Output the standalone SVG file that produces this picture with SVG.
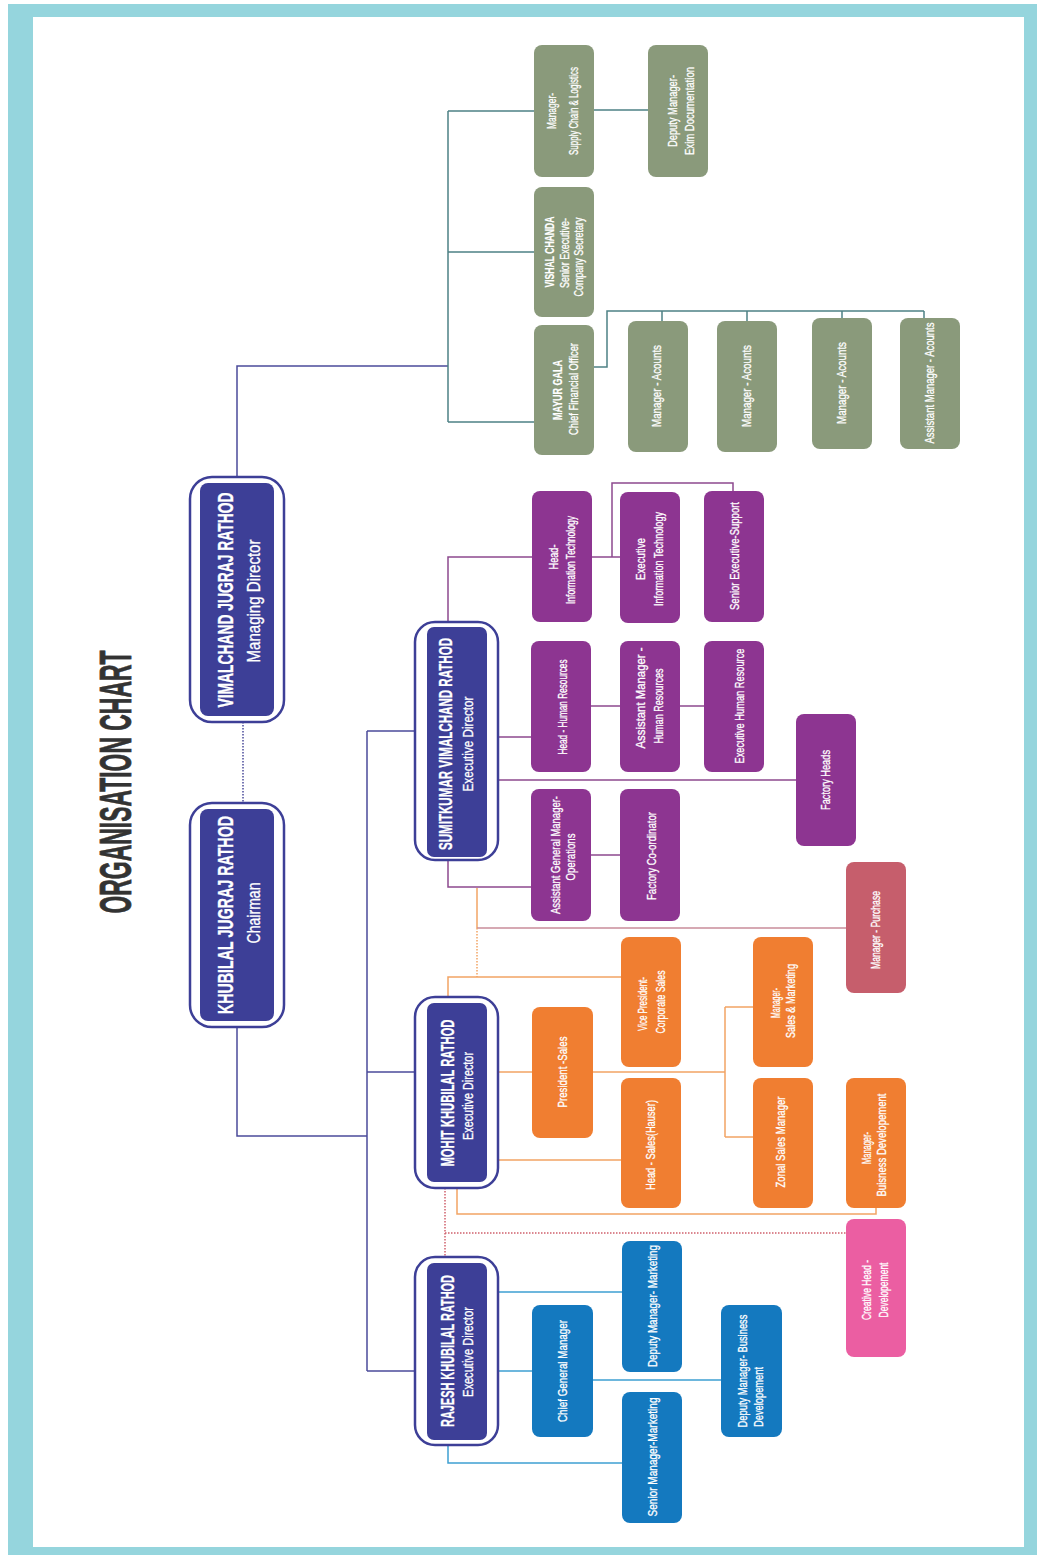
<svg xmlns="http://www.w3.org/2000/svg" width="1037" height="1555" viewBox="0 0 1037 1555">
<style>
.t{font-family:"Liberation Sans",Arial,sans-serif;font-size:13.5px;fill:#fff;stroke:#fff;stroke-width:0.3;text-anchor:middle}
.b{font-weight:bold;stroke-width:0.2}
.nm{font-family:"Liberation Sans",Arial,sans-serif;font-weight:bold;fill:#fff;stroke:#fff;stroke-width:0.3;text-anchor:middle}
.rl{font-family:"Liberation Sans",Arial,sans-serif;fill:#fff;stroke:#fff;stroke-width:0.3;text-anchor:middle}
.outer{fill:#fff;stroke:#3d3f97;stroke-width:2.5}
.inner{fill:#3d3f97}
.g{fill:#8a9a7b}.p{fill:#8d3591}.o{fill:#f07e31}.r{fill:#c65e6c}.k{fill:#eb5ea2}.bl{fill:#1479bf}
.c{fill:none;stroke-width:1.5}
.cn{stroke:#4b4b9a}.cg{stroke:#4e8185}.cp{stroke:#8d4a8f}.co{stroke:#f2a464}.cr{stroke:#c98c9a}.cb{stroke:#3ea0d2}
.dot{stroke-dasharray:1.5 1.5}
</style>
<rect x="8" y="4" width="1029" height="1551" fill="#95d5dd"/>
<rect x="33" y="17" width="991" height="1530" fill="#fff"/>
<text x="0" y="0" transform="translate(131,782) rotate(-90)" font-family="Liberation Sans,Arial,sans-serif" font-weight="bold" font-size="45" fill="#333" stroke="#333" stroke-width="0.8" text-anchor="middle" textLength="263" lengthAdjust="spacingAndGlyphs">ORGANISATION CHART</text>

<g id="connectors">
<path class="c cn" d="M237 477V366H448"/>
<path class="c cn dot" d="M243 722V803"/>
<path class="c cn" d="M237 1027V1136H367"/>
<path class="c cn" d="M367 731V1371M367 731H415M367 1072H415M367 1371H415"/>
<path class="c cg" d="M448 111V422M448 111H534M448 252H534M448 422H534M594 110H648"/>
<path class="c cg" d="M594 367H607V311H924M662 311V321M747 311V321M842 311V318M924 311V318"/>
<path class="c cp" d="M448 622V557H532M592 557H620M612 557V483H733V491"/>
<path class="c cp" d="M498 737H531M591 706H620M680 706H704M498 780H796"/>
<path class="c cp" d="M448 860V887H531M591 855H620"/>
<path class="c co" d="M477 888V928"/>
<path class="c cr" d="M477 928H846"/>
<path class="c co dot" d="M477 928V977"/>
<path class="c co" d="M448 997V977H621M498 1072H532M593 1072H725M725 1007V1137M725 1007H753M725 1137H753M498 1160H621M457 1188V1214H876V1208"/>
<path class="c dot" stroke="#d0606c" d="M445 1188V1257M445 1233H846"/>
<path class="c cb" d="M498 1292H622M498 1371H532M593 1380H721M448 1445V1463H622"/>
</g>

<g id="md">
<rect class="outer" x="190" y="477" width="94" height="245" rx="22"/>
<rect class="inner" x="200" y="483" width="74" height="233" rx="8"/>
<text class="nm" font-size="22" transform="translate(233,600) rotate(-90)" textLength="215" lengthAdjust="spacingAndGlyphs">VIMALCHAND JUGRAJ RATHOD</text>
<text class="rl" font-size="18" transform="translate(260,601) rotate(-90)" textLength="123" lengthAdjust="spacingAndGlyphs">Managing Director</text>
</g>
<g id="chairman">
<rect class="outer" x="190" y="803" width="94" height="224" rx="22"/>
<rect class="inner" x="200" y="809" width="74" height="212" rx="8"/>
<text class="nm" font-size="22" transform="translate(233,915) rotate(-90)" textLength="198" lengthAdjust="spacingAndGlyphs">KHUBILAL JUGRAJ RATHOD</text>
<text class="rl" font-size="18" transform="translate(260,913) rotate(-90)" textLength="61" lengthAdjust="spacingAndGlyphs">Chairman</text>
</g>
<g id="sumit">
<rect class="outer" x="415" y="622" width="83" height="238" rx="20"/>
<rect class="inner" x="427" y="627" width="60" height="230" rx="7"/>
<text class="nm" font-size="19" transform="translate(452,744) rotate(-90)" textLength="212" lengthAdjust="spacingAndGlyphs">SUMITKUMAR VIMALCHAND RATHOD</text>
<text class="rl" font-size="15" transform="translate(473,744) rotate(-90)" textLength="95" lengthAdjust="spacingAndGlyphs">Executive Director</text>
</g>
<g id="mohit">
<rect class="outer" x="415" y="997" width="83" height="191" rx="20"/>
<rect class="inner" x="427" y="1003" width="60" height="179" rx="7"/>
<text class="nm" font-size="19" transform="translate(454,1093) rotate(-90)" textLength="147" lengthAdjust="spacingAndGlyphs">MOHIT KHUBILAL RATHOD</text>
<text class="rl" font-size="15" transform="translate(473,1096) rotate(-90)" textLength="88" lengthAdjust="spacingAndGlyphs">Executive Director</text>
</g>
<g id="rajesh">
<rect class="outer" x="415" y="1257" width="83" height="188" rx="20"/>
<rect class="inner" x="427" y="1263" width="60" height="177" rx="7"/>
<text class="nm" font-size="19" transform="translate(454,1351) rotate(-90)" textLength="152" lengthAdjust="spacingAndGlyphs">RAJESH KHUBILAL RATHOD</text>
<text class="rl" font-size="15" transform="translate(473,1352) rotate(-90)" textLength="90" lengthAdjust="spacingAndGlyphs">Executive Director</text>
</g>

<g id="mgr-supply-chain">
<rect class="g" x="534" y="45" width="60" height="132" rx="8"/>
<text class="t" transform="translate(556,111) rotate(-90)" textLength="36" lengthAdjust="spacingAndGlyphs">Manager-</text>
<text class="t" transform="translate(578,111) rotate(-90)" textLength="88" lengthAdjust="spacingAndGlyphs">Supply Chain &amp; Logistics</text>
</g>
<g id="dy-mgr-exim">
<rect class="g" x="648" y="45" width="60" height="132" rx="8"/>
<text class="t" transform="translate(677,111) rotate(-90)" textLength="72" lengthAdjust="spacingAndGlyphs">Deputy Manager-</text>
<text class="t" transform="translate(694,111) rotate(-90)" textLength="88" lengthAdjust="spacingAndGlyphs">Exim Documentation</text>
</g>
<g id="vishal">
<rect class="g" x="534" y="187" width="60" height="130" rx="8"/>
<text class="t b" transform="translate(554,252) rotate(-90)" textLength="71" lengthAdjust="spacingAndGlyphs">VISHAL CHANDA</text>
<text class="t" transform="translate(569,253) rotate(-90)" textLength="70" lengthAdjust="spacingAndGlyphs">Senior Executive-</text>
<text class="t" transform="translate(582.5,257) rotate(-90)" textLength="79" lengthAdjust="spacingAndGlyphs">Company Secretary</text>
</g>
<g id="mayur">
<rect class="g" x="534" y="325" width="60" height="130" rx="8"/>
<text class="t b" transform="translate(562,390) rotate(-90)" textLength="60" lengthAdjust="spacingAndGlyphs">MAYUR GALA</text>
<text class="t" transform="translate(578,389) rotate(-90)" textLength="92" lengthAdjust="spacingAndGlyphs">Chief Financial Officer</text>
</g>
<g id="mgr-accounts-1">
<rect class="g" x="628" y="321" width="60" height="131" rx="8"/>
<text class="t" transform="translate(661,386) rotate(-90)" textLength="82" lengthAdjust="spacingAndGlyphs">Manager - Acounts</text>
</g>
<g id="mgr-accounts-2">
<rect class="g" x="717" y="321" width="60" height="131" rx="8"/>
<text class="t" transform="translate(751,386) rotate(-90)" textLength="82" lengthAdjust="spacingAndGlyphs">Manager - Acounts</text>
</g>
<g id="mgr-accounts-3">
<rect class="g" x="812" y="318" width="60" height="131" rx="8"/>
<text class="t" transform="translate(846,383) rotate(-90)" textLength="82" lengthAdjust="spacingAndGlyphs">Manager - Acounts</text>
</g>
<g id="asst-mgr-accounts">
<rect class="g" x="900" y="318" width="60" height="131" rx="8"/>
<text class="t" transform="translate(934,383) rotate(-90)" textLength="121" lengthAdjust="spacingAndGlyphs">Assistant Manager - Acounts</text>
</g>

<g id="head-it">
<rect class="p" x="532" y="491" width="60" height="131" rx="8"/>
<text class="t" transform="translate(558,557) rotate(-90)" textLength="25" lengthAdjust="spacingAndGlyphs">Head-</text>
<text class="t" transform="translate(575,560) rotate(-90)" textLength="88" lengthAdjust="spacingAndGlyphs">Information Technology</text>
</g>
<g id="exec-it">
<rect class="p" x="620" y="492" width="60" height="131" rx="8"/>
<text class="t" transform="translate(645,559) rotate(-90)" textLength="42" lengthAdjust="spacingAndGlyphs">Executive</text>
<text class="t" transform="translate(663,559) rotate(-90)" textLength="94" lengthAdjust="spacingAndGlyphs">Information Technology</text>
</g>
<g id="sr-exec-support">
<rect class="p" x="704" y="491" width="60" height="131" rx="8"/>
<text class="t" transform="translate(739,556) rotate(-90)" textLength="108" lengthAdjust="spacingAndGlyphs">Senior Executive-Support</text>
</g>
<g id="head-hr">
<rect class="p" x="531" y="641" width="60" height="131" rx="8"/>
<text class="t" transform="translate(567,707) rotate(-90)" textLength="95" lengthAdjust="spacingAndGlyphs">Head - Human Resources</text>
</g>
<g id="asst-mgr-hr">
<rect class="p" x="620" y="641" width="60" height="131" rx="8"/>
<text class="t" transform="translate(645,698) rotate(-90)" textLength="101" lengthAdjust="spacingAndGlyphs">Assistant Manager -</text>
<text class="t" transform="translate(663,706) rotate(-90)" textLength="75" lengthAdjust="spacingAndGlyphs">Human Resources</text>
</g>
<g id="exec-hr">
<rect class="p" x="704" y="641" width="60" height="131" rx="8"/>
<text class="t" transform="translate(744,706) rotate(-90)" textLength="115" lengthAdjust="spacingAndGlyphs">Executive Human Resource</text>
</g>
<g id="factory-heads">
<rect class="p" x="796" y="714" width="60" height="132" rx="8"/>
<text class="t" transform="translate(830,780) rotate(-90)" textLength="60" lengthAdjust="spacingAndGlyphs">Factory Heads</text>
</g>
<g id="agm-operations">
<rect class="p" x="531" y="789" width="60" height="132" rx="8"/>
<text class="t" transform="translate(560,855) rotate(-90)" textLength="118" lengthAdjust="spacingAndGlyphs">Assistant General Manager-</text>
<text class="t" transform="translate(575,857) rotate(-90)" textLength="47" lengthAdjust="spacingAndGlyphs">Operations</text>
</g>
<g id="factory-coordinator">
<rect class="p" x="620" y="789" width="60" height="132" rx="8"/>
<text class="t" transform="translate(656,856) rotate(-90)" textLength="88" lengthAdjust="spacingAndGlyphs">Factory Co-ordinator</text>
</g>
<g id="mgr-purchase">
<rect class="r" x="846" y="862" width="60" height="131" rx="8"/>
<text class="t" transform="translate(880,930) rotate(-90)" textLength="78" lengthAdjust="spacingAndGlyphs">Manager - Purchase</text>
</g>

<g id="president-sales">
<rect class="o" x="532" y="1007" width="61" height="131" rx="8"/>
<text class="t" transform="translate(567,1072) rotate(-90)" textLength="71" lengthAdjust="spacingAndGlyphs">President -Sales</text>
</g>
<g id="vp-corporate-sales">
<rect class="o" x="621" y="937" width="60" height="130" rx="8"/>
<text class="t" transform="translate(647,1004) rotate(-90)" textLength="54" lengthAdjust="spacingAndGlyphs">Vice President-</text>
<text class="t" transform="translate(665,1002) rotate(-90)" textLength="63" lengthAdjust="spacingAndGlyphs">Corporate Sales</text>
</g>
<g id="head-sales-hauser">
<rect class="o" x="621" y="1078" width="60" height="130" rx="8"/>
<text class="t" transform="translate(655,1145) rotate(-90)" textLength="90" lengthAdjust="spacingAndGlyphs">Head - Sales(Hauser)</text>
</g>
<g id="mgr-sales-marketing">
<rect class="o" x="753" y="937" width="60" height="130" rx="8"/>
<text class="t" transform="translate(780,1003) rotate(-90)" textLength="30" lengthAdjust="spacingAndGlyphs">Manager-</text>
<text class="t" transform="translate(795,1001) rotate(-90)" textLength="74" lengthAdjust="spacingAndGlyphs">Sales &amp; Marketing</text>
</g>
<g id="zonal-sales-mgr">
<rect class="o" x="753" y="1078" width="60" height="130" rx="8"/>
<text class="t" transform="translate(785,1142) rotate(-90)" textLength="91" lengthAdjust="spacingAndGlyphs">Zonal Sales Manager</text>
</g>
<g id="mgr-business-dev">
<rect class="o" x="846" y="1078" width="60" height="130" rx="8"/>
<text class="t" transform="translate(871,1148) rotate(-90)" textLength="32" lengthAdjust="spacingAndGlyphs">Manager-</text>
<text class="t" transform="translate(886,1145) rotate(-90)" textLength="103" lengthAdjust="spacingAndGlyphs">Buisness Developement</text>
</g>
<g id="creative-head">
<rect class="k" x="846" y="1219" width="60" height="138" rx="8"/>
<text class="t" transform="translate(871,1290) rotate(-90)" textLength="60" lengthAdjust="spacingAndGlyphs">Creative Head -</text>
<text class="t" transform="translate(888,1290) rotate(-90)" textLength="55" lengthAdjust="spacingAndGlyphs">Developement</text>
</g>

<g id="dy-mgr-marketing">
<rect class="bl" x="622" y="1241" width="60" height="131" rx="8"/>
<text class="t" transform="translate(657,1306) rotate(-90)" textLength="122" lengthAdjust="spacingAndGlyphs">Deputy Manager- Marketing</text>
</g>
<g id="chief-gm">
<rect class="bl" x="532" y="1305" width="61" height="132" rx="8"/>
<text class="t" transform="translate(567,1371) rotate(-90)" textLength="102" lengthAdjust="spacingAndGlyphs">Chief General Manager</text>
</g>
<g id="dy-mgr-business-dev">
<rect class="bl" x="721" y="1305" width="61" height="132" rx="8"/>
<text class="t" transform="translate(747,1371) rotate(-90)" textLength="113" lengthAdjust="spacingAndGlyphs">Deputy Manager- Business</text>
<text class="t" transform="translate(763,1397) rotate(-90)" textLength="60" lengthAdjust="spacingAndGlyphs">Developement</text>
</g>
<g id="sr-mgr-marketing">
<rect class="bl" x="622" y="1392" width="60" height="131" rx="8"/>
<text class="t" transform="translate(657,1457) rotate(-90)" textLength="119" lengthAdjust="spacingAndGlyphs">Senior Manager-Marketing</text>
</g>
</svg>
